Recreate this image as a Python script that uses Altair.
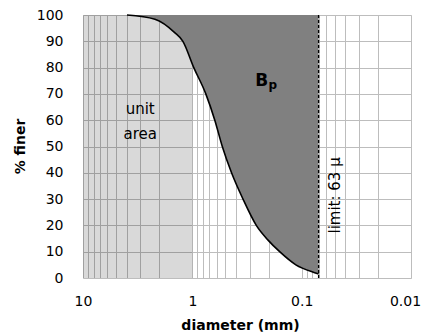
import altair as alt
import pandas as pd

# cumulative grain-size curve (% finer vs diameter in mm)
diam = [3.96, 2.2, 1.45, 1.22, 0.97, 0.753, 0.623, 0.532, 0.438, 0.344, 0.26, 0.203, 0.159, 0.113, 0.076, 0.07]
finer = [100, 98.4, 93.3, 90, 80, 70, 60, 50, 40, 30, 20, 14.4, 10, 5, 2.0, 1.5]

limit_d = 0.07          # dashed limit line position (63 micron label)
unit_x = [10, 1]        # light grey "unit area" span
y_range = [0, 100]

x_ticks = [round(k * 10 ** e, 6) for e in (-2, -1, 0) for k in range(1, 10)] + [10]
x_label_ticks = [10, 1, 0.1, 0.01]
y_ticks = list(range(0, 101, 10))

FONT = "DejaVu Sans"

curve = pd.DataFrame({"d": diam, "p": finer, "top": [y_range[1]] * len(diam)})
unit_df = pd.DataFrame({"x": [unit_x[0]], "x2": [unit_x[1]], "y": [y_range[0]], "y2": [y_range[1]]})
limit_df = pd.DataFrame({"x": [limit_d], "y": [y_range[0]], "y2": [y_range[1]]})

xscale = alt.Scale(type="log", domain=[0.01, 10], reverse=True, nice=False)
yscale = alt.Scale(domain=[0, 100], nice=False)

xaxis = alt.Axis(
    values=x_ticks, format="~g",
    labelExpr="indexof([10, 1, 0.1, 0.01], datum.value) >= 0 ? datum.label : ''",
    grid=True, gridColor="#bdbdbd", gridWidth=1, ticks=False, tickSize=0, domain=False,
    labelPadding=16, labelFontSize=14, labelFont=FONT, labelColor="#000",
    labelFlush=False, labelOverlap=False,
    labelOffset={"condition": {"test": "datum.value < 0.011", "value": -6}, "value": 0},
    title="diameter (mm)", titleFont=FONT, titleFontSize=14, titleFontWeight="bold",
    titleColor="#000", titleX=157, titleY=47, titleBaseline="middle",
)
yaxis = alt.Axis(
    values=y_ticks, grid=True, gridColor="#bdbdbd", gridWidth=1, ticks=False, tickSize=0,
    domain=False, labelPadding=20, labelFontSize=14, labelFont=FONT, labelColor="#000",
    labelOverlap=False, labelFlush=False,
    title="% finer", titleFont=FONT, titleFontSize=14, titleFontWeight="bold",
    titleColor="#000", titleX=-63, titleY=131, titleBaseline="middle", titleAngle=270,
    titleAlign="center",
)


def X(field):
    return alt.X(field, scale=xscale, axis=xaxis)


def Y(field):
    return alt.Y(field, scale=yscale, axis=yaxis)


unit = alt.Chart(unit_df).mark_rect(color="#000", opacity=0.15).encode(
    x=X("x:Q"), x2="x2:Q", y=Y("y:Q"), y2="y2:Q",
)

area = alt.Chart(curve).mark_area(color="#808080", opacity=1, interpolate="monotone").encode(
    x=X("d:Q"), y=Y("p:Q"), y2="top:Q",
)

line = alt.Chart(curve).mark_line(color="#000", strokeWidth=1.6, interpolate="monotone").encode(
    x=X("d:Q"), y=Y("p:Q"),
)

rule = alt.Chart(limit_df).mark_rule(color="#000", strokeWidth=1.3, strokeDash=[3, 2]).encode(
    x=X("x:Q"), y=Y("y:Q"), y2="y2:Q",
)

texts_df = pd.DataFrame({
    "x": [3.0, 3.0],
    "y": [64.4, 54.9],
    "t": ["unit", "area"],
})
unit_text = alt.Chart(texts_df).mark_text(font=FONT, fontSize=15, color="#000").encode(
    x=X("x:Q"), y=Y("y:Q"), text="t:N",
)

b_df = pd.DataFrame({"x": [0.232], "y": [75.0], "t": ["B"]})
b_text = alt.Chart(b_df).mark_text(font=FONT, fontSize=17, fontWeight="bold", color="#000").encode(
    x=X("x:Q"), y=Y("y:Q"), text="t:N",
)
p_df = pd.DataFrame({"x": [0.184], "y": [73.4], "t": ["p"]})
p_text = alt.Chart(p_df).mark_text(font=FONT, fontSize=12, fontWeight="bold", color="#000").encode(
    x=X("x:Q"), y=Y("y:Q"), text="t:N",
)

lim_df = pd.DataFrame({"x": [0.05], "y": [31.4], "t": ["limit: 63 µ"]})
lim_text = alt.Chart(lim_df).mark_text(font=FONT, fontSize=15, color="#000", angle=270).encode(
    x=X("x:Q"), y=Y("y:Q"), text="t:N",
)

chart = alt.layer(unit, area, line, rule, unit_text, b_text, p_text, lim_text).properties(
    width=328, height=263,
    autosize=alt.AutoSizeParams(type="none"),
    padding={"left": 75, "top": 7, "right": 12, "bottom": 55},
).configure_view(stroke="#000", strokeWidth=1.2).configure(background="#ffffff")

chart.save("out.html", embed_options={"renderer": "svg", "actions": False})
